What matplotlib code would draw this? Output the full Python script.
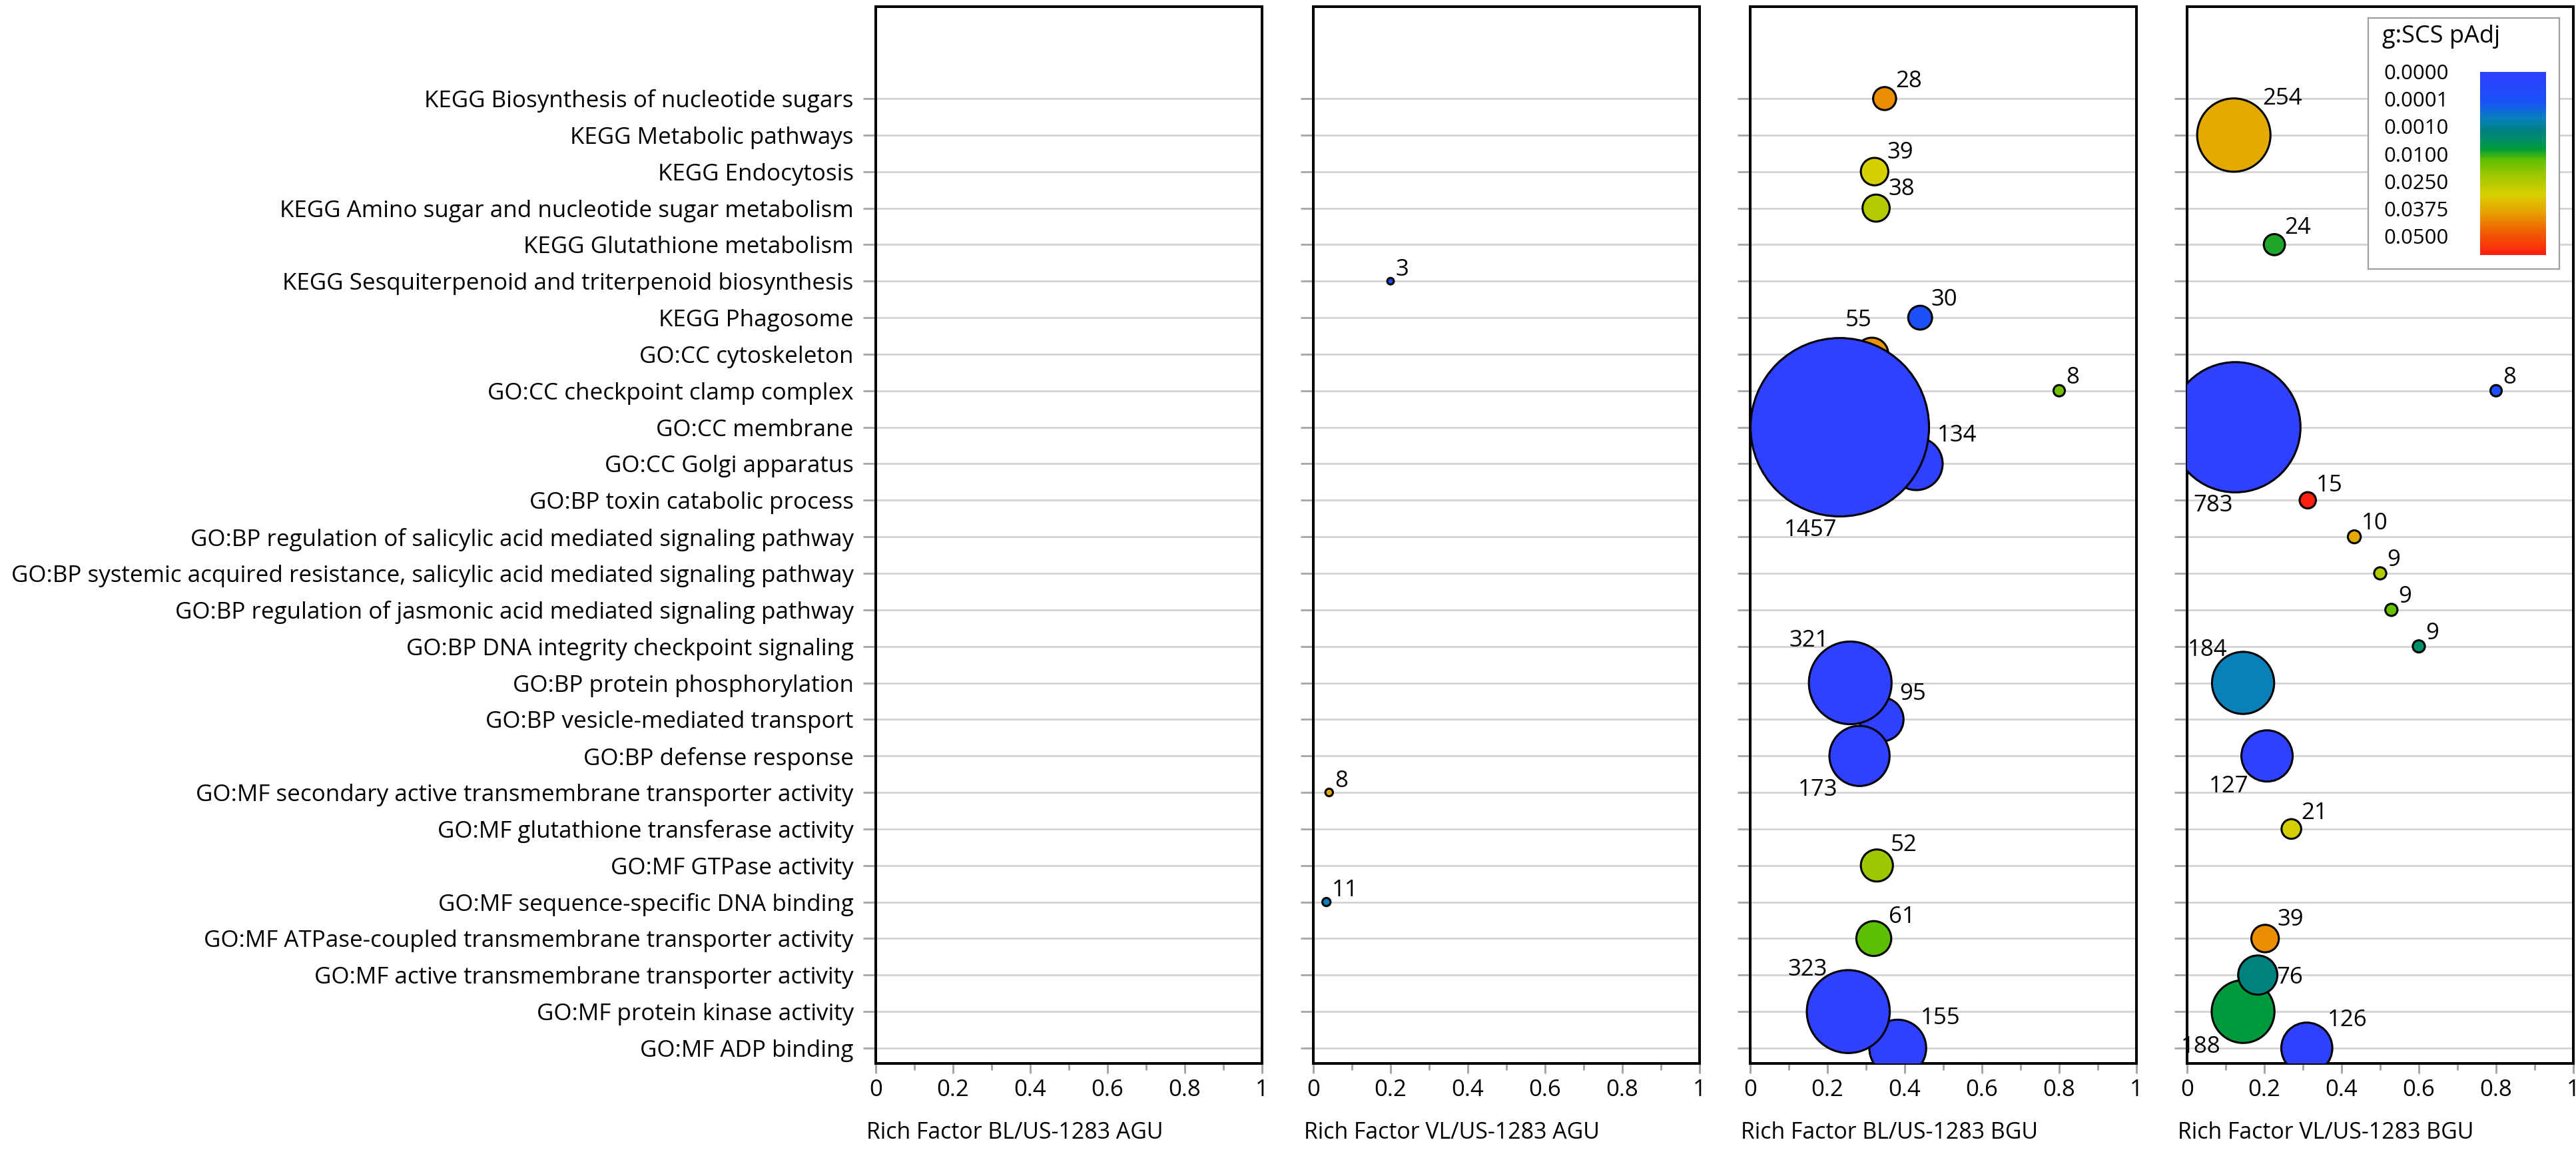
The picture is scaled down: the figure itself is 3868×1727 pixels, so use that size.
import numpy as np
import matplotlib.pyplot as plt
from matplotlib.colors import LinearSegmentedColormap

plt.rcParams['font.family'] = ['Open Sans', 'DejaVu Sans']

W, H, DPI = 3868, 1727, 200
PX = 72 / DPI  # points per pixel

# terms, top to bottom (row index = position in this list)
categories = [
    'KEGG Biosynthesis of nucleotide sugars',
    'KEGG Metabolic pathways',
    'KEGG Endocytosis',
    'KEGG Amino sugar and nucleotide sugar metabolism',
    'KEGG Glutathione metabolism',
    'KEGG Sesquiterpenoid and triterpenoid biosynthesis',
    'KEGG Phagosome',
    'GO:CC cytoskeleton',
    'GO:CC checkpoint clamp complex',
    'GO:CC membrane',
    'GO:CC Golgi apparatus',
    'GO:BP toxin catabolic process',
    'GO:BP regulation of salicylic acid mediated signaling pathway',
    'GO:BP systemic acquired resistance, salicylic acid mediated signaling pathway',
    'GO:BP regulation of jasmonic acid mediated signaling pathway',
    'GO:BP DNA integrity checkpoint signaling',
    'GO:BP protein phosphorylation',
    'GO:BP vesicle-mediated transport',
    'GO:BP defense response',
    'GO:MF secondary active transmembrane transporter activity',
    'GO:MF glutathione transferase activity',
    'GO:MF GTPase activity',
    'GO:MF sequence-specific DNA binding',
    'GO:MF ATPase-coupled transmembrane transporter activity',
    'GO:MF active transmembrane transporter activity',
    'GO:MF protein kinase activity',
    'GO:MF ADP binding',
]

# BL/US-1283 AGU : nothing enriched
bl_agu_rows = []
bl_agu_counts = []
bl_agu_rich = []
bl_agu_padj = []

# VL/US-1283 AGU
vl_agu_rows = [5, 19, 22]
vl_agu_counts = [3, 8, 11]
vl_agu_rich = [0.20, 0.041, 0.034]
vl_agu_padj = [0.00008, 0.031, 0.00055]

# BL/US-1283 BGU
bl_bgu_rows = [0, 2, 3, 6, 7, 8, 9, 10, 16, 17, 18, 21, 23, 25, 26]
bl_bgu_counts = [28, 39, 38, 30, 55, 8, 1457, 134, 321, 95, 173, 52, 61, 323, 155]
bl_bgu_rich = [0.348, 0.322, 0.326, 0.44, 0.315, 0.80, 0.232, 0.43, 0.259, 0.34,
               0.283, 0.328, 0.32, 0.254, 0.382]
bl_bgu_padj = [0.035, 0.025, 0.019, 0.00009, 0.034, 0.010, 0.0, 0.0, 0.0, 0.0,
               0.0, 0.0159, 0.0089, 0.0, 0.0]

# VL/US-1283 BGU
vl_bgu_rows = [1, 4, 8, 9, 11, 12, 13, 14, 15, 16, 18, 20, 23, 24, 25, 26]
vl_bgu_counts = [254, 24, 8, 783, 15, 10, 9, 9, 9, 184, 127, 21, 39, 76, 188, 126]
vl_bgu_rich = [0.121, 0.226, 0.80, 0.125, 0.3125, 0.433, 0.50, 0.529, 0.60, 0.145,
               0.207, 0.27, 0.202, 0.183, 0.145, 0.31]
vl_bgu_padj = [0.031, 0.0068, 0.000084, 0.0, 0.05, 0.031, 0.019, 0.0095, 0.0027,
               0.0006, 0.0, 0.0247, 0.035, 0.00093, 0.0057, 0.0]

# where the count label sits around each bubble
vl_agu_place = ['ne', 'ne', 'ne']
bl_bgu_place = ['ne', 'ne', 'ne', 'ne', 'n', 'ne', 's', 'ne', 'nw', 'ne', 'sw',
                'ne', 'ne', 'nw', 'ne']
vl_bgu_place = ['ne', 'ne', 'ne', 's', 'ne', 'ne', 'ne', 'ne', 'ne', 'nw', 'sw',
                'ne', 'ne', 'e', 'sw', 'ne']

panel_titles = ['Rich Factor BL/US-1283 AGU', 'Rich Factor VL/US-1283 AGU',
                'Rich Factor BL/US-1283 BGU', 'Rich Factor VL/US-1283 BGU']

padj_ticks = [0.0, 0.0001, 0.001, 0.01, 0.025, 0.0375, 0.05]
padj_tick_labels = ['0.0000', '0.0001', '0.0010', '0.0100', '0.0250', '0.0375', '0.0500']

cmap = LinearSegmentedColormap.from_list('gscs', [
    (0.00, '#3040FF'), (0.16, '#1A50F8'), (0.25, '#0A80C0'), (0.32, '#008080'),
    (0.37, '#009068'), (0.42, '#009A3C'), (0.48, '#60C000'), (0.58, '#A8C800'),
    (0.67, '#D8D000'), (0.77, '#E8A000'), (0.87, '#F06000'), (1.00, '#FF2010')])


def padj_color(p):
    pos = np.interp(p, padj_ticks, np.linspace(0, 1, len(padj_ticks)))
    return cmap(pos)


def bubble_px(n, small):
    # outer diameter in pixels
    if small:
        return 12 + 0.3 * n
    return 7.1 * np.sqrt(n)


panels = [
    (bl_agu_rows, bl_agu_counts, bl_agu_rich, bl_agu_padj, [], True),
    (vl_agu_rows, vl_agu_counts, vl_agu_rich, vl_agu_padj, vl_agu_place, True),
    (bl_bgu_rows, bl_bgu_counts, bl_bgu_rich, bl_bgu_padj, bl_bgu_place, False),
    (vl_bgu_rows, vl_bgu_counts, vl_bgu_rich, vl_bgu_padj, vl_bgu_place, False),
]

fig = plt.figure(figsize=(W / DPI, H / DPI), dpi=DPI)

lefts = [1315, 1972, 2628, 3284]
ax_w, ax_top, ax_bot = 580, 10, 1597
edge_lw = 1.1
DIG = 25  # digit height in px

for k, (rows, counts, rich, padj, place, small) in enumerate(panels):
    ax = fig.add_axes([lefts[k] / W, (H - ax_bot) / H, ax_w / W, (ax_bot - ax_top) / H])
    ax.set_xlim(0, 1)
    ax.set_ylim(26.42, -2.516)
    ax.set_yticks(range(len(categories)))
    if k == 0:
        ax.set_yticklabels(categories)
    else:
        ax.set_yticklabels([])
    ax.set_xticks([0, 0.2, 0.4, 0.6, 0.8, 1])
    ax.set_xticklabels(['0', '0.2', '0.4', '0.6', '0.8', '1'])
    ax.set_xticks(np.arange(0.1, 1.0, 0.2), minor=True)
    ax.tick_params(axis='y', length=7.0, width=1.0, color='#A6A6A6', pad=5.0,
                   labelsize=12.6)
    ax.tick_params(axis='x', which='major', length=5.4, width=1.08, color='#A6A6A6',
                   pad=3.0, labelsize=12.5)
    ax.tick_params(axis='x', which='minor', length=3.6, width=1.08, color='#A6A6A6')
    ax.grid(axis='y', color='#D4D4D4', linewidth=1.0)
    ax.set_axisbelow(True)
    for sp in ax.spines.values():
        sp.set_linewidth(1.44)
        sp.set_color('black')
    ax.set_xlabel(panel_titles[k], loc='left', fontsize=12.2)
    ax.xaxis.set_label_coords(-14 / ax_w, -(1684 - ax_bot) / (ax_bot - ax_top))

    if not rows:
        continue

    # less significant first, so the most significant / largest end up on top
    order = sorted(range(len(rows)), key=lambda i: (-padj[i], counts[i]))
    xs = [rich[i] for i in order]
    ys = [rows[i] for i in order]
    d = np.array([bubble_px(counts[i], small) for i in order])
    sizes = (d * PX - edge_lw) ** 2
    cols = [padj_color(padj[i]) for i in order]
    ax.scatter(xs, ys, s=sizes, c=cols, edgecolors='black', linewidths=edge_lw,
               zorder=3)

    for i in range(len(rows)):
        r = bubble_px(counts[i], small) / 2
        code = place[i]
        if code == 'ne':
            dx, dy, ha = 0.7 * r + 3, 0.75 * r + 3, 'left'
        elif code == 'nw':
            dx, dy, ha = -0.5 * r, 0.85 * r, 'right'
        elif code == 'sw':
            dx, dy, ha = -0.7 * r, -(0.75 * r + DIG), 'right'
        elif code == 's':
            dx, dy, ha = -4, -(1.02 * r + DIG), 'right'
        elif code == 'n':
            dx, dy, ha = 0, 1.6 * r, 'right'
        else:  # 'e'
            dx, dy, ha = 0.9 * r, -DIG / 2, 'left'
        ax.annotate(str(counts[i]), (rich[i], rows[i]), xytext=(dx * PX, dy * PX),
                    textcoords='offset points', ha=ha, va='baseline',
                    fontsize=12.5, zorder=4)

# colour legend box
box = fig.add_axes([3556 / W, (H - 404) / H, (3843 - 3556) / W, (404 - 27) / H])
box.set_zorder(5)
box.set_xticks([])
box.set_yticks([])
for sp in box.spines.values():
    sp.set_color('#A0A0A0')
    sp.set_linewidth(0.8)
box.set_facecolor('white')

fig.text(3577 / W, 1 - 55 / H, 'g:SCS pAdj', fontsize=13, va='center', ha='left',
         zorder=7)
for j, lab in enumerate(padj_tick_labels):
    fig.text(3579 / W, 1 - (111 + j * 41.2) / H, lab, fontsize=11.2, va='center',
             ha='left', zorder=7)

cax = fig.add_axes([3724 / W, (H - 383) / H, (3823 - 3724) / W, (383 - 108) / H])
cax.set_zorder(6)
cax.imshow(np.linspace(0, 1, 256).reshape(-1, 1), cmap=cmap, aspect='auto')
cax.set_axis_off()

fig.savefig('out.png', dpi=DPI)
